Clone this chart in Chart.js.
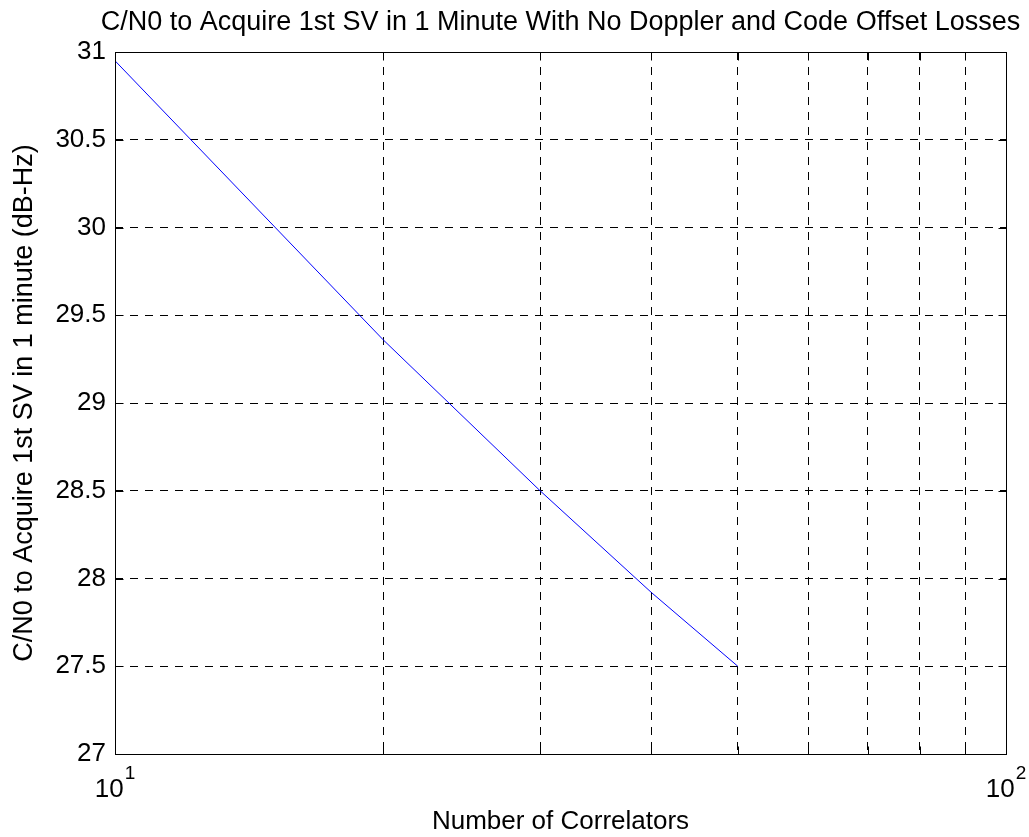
<!DOCTYPE html>
<html>
<head>
<meta charset="utf-8">
<title>C/N0 vs Number of Correlators</title>
<script src="https://cdn.jsdelivr.net/npm/chart.js@4"></script>
<style>
  html, body { margin: 0; padding: 0; background: #fff; }
  #wrap { width: 1029px; height: 837px; }
</style>
</head>
<body>
<div id="wrap"><canvas id="cn0Chart" width="1029" height="837"></canvas></div>
<script>
// number of correlators vs required C/N0 (dB-Hz)
const correlators = [10, 20, 30, 40, 50];
const cn0Required = [30.95, 29.36, 28.5, 27.92, 27.5];

// log axis grid positions and the decades that get a 10^n label
const xGridTicks = [10, 20, 30, 40, 50, 60, 70, 80, 90, 100];
const xDecades = [10, 100];
const yMin = 27;
const yMax = 31;
const yStep = 0.5;

const titleText = "C/N0 to Acquire 1st SV in 1 Minute With No Doppler and Code Offset Losses";

const FONT = "'Liberation Sans', Arial, sans-serif";
const DASH = [8, 7];

// MATLAB style box with inward ticks, title over the axes, 10^n labels
const boxAndTicks = {
  id: "boxAndTicks",
  afterDatasetsDraw(chart) {
    const { ctx, chartArea: a, scales } = chart;
    ctx.save();
    ctx.strokeStyle = "#000";
    ctx.lineWidth = 1;
    const L = Math.round(a.left) + 0.5, R = Math.round(a.right) + 0.5;
    const T = Math.round(a.top) + 0.5, B = Math.round(a.bottom) + 0.5;
    ctx.strokeRect(L, T, R - L, B - T);

    ctx.beginPath();
    scales.x.ticks.forEach(t => {
      const px = Math.round(scales.x.getPixelForValue(t.value)) + 0.5;
      ctx.moveTo(px, B); ctx.lineTo(px, B - 8);
      ctx.moveTo(px, T); ctx.lineTo(px, T + 8);
    });
    scales.y.ticks.forEach(t => {
      const py = Math.round(scales.y.getPixelForValue(t.value)) + 0.5;
      ctx.moveTo(L, py); ctx.lineTo(L + 8, py);
      ctx.moveTo(R, py); ctx.lineTo(R - 8, py);
    });
    ctx.stroke();
    ctx.restore();
  },
  afterDraw(chart) {
    const { ctx, chartArea: a, scales } = chart;
    ctx.save();
    ctx.fillStyle = "#000";
    ctx.textBaseline = "alphabetic";

    ctx.font = "27px " + FONT;
    ctx.textAlign = "center";
    ctx.fillText(titleText, (a.left + a.right) / 2, 30);

    ctx.textAlign = "left";
    xDecades.forEach(v => {
      const exp = String(Math.round(Math.log10(v)));
      ctx.font = "26px " + FONT;
      const wBase = ctx.measureText("10").width;
      ctx.font = "19px " + FONT;
      const wExp = ctx.measureText(exp).width;
      const cx = scales.x.getPixelForValue(v);
      const x0 = cx - (wBase + wExp + 1) / 2;
      ctx.font = "26px " + FONT;
      ctx.fillText("10", x0, 797);
      ctx.font = "19px " + FONT;
      ctx.fillText(exp, x0 + wBase + 1, 779);
    });
    ctx.restore();
  }
};

new Chart(document.getElementById("cn0Chart"), {
  type: "line",
  data: {
    datasets: [
      {
        data: correlators.map((n, i) => ({ x: n, y: cn0Required[i] })),
        borderColor: "#0000ff",
        borderWidth: 1,
        pointRadius: 0,
        tension: 0,
        fill: false,
      },
    ],
  },
  options: {
    responsive: false,
    animation: false,
    layout: { padding: { top: 52, left: 0, right: 23, bottom: 0 } },
    plugins: {
      legend: { display: false },
      tooltip: { enabled: false },
      title: { display: false },
    },
    scales: {
      x: {
        type: "logarithmic",
        min: 10,
        max: 100,
        afterBuildTicks(scale) {
          scale.ticks = xGridTicks.map(v => ({ value: v }));
        },
        afterFit(scale) { scale.height = 83; },
        grid: { color: "#000", lineWidth: 1, drawTicks: false },
        border: { display: false, dash: DASH },
        ticks: { callback: () => "", font: { family: FONT, size: 26 } },
        title: {
          display: true,
          text: "Number of Correlators",
          color: "#000",
          font: { family: FONT, size: 26, weight: "normal" },
          padding: { top: 0, bottom: 0 },
        },
      },
      y: {
        min: yMin,
        max: yMax,
        afterFit(scale) { scale.width = 115; },
        grid: { color: "#000", lineWidth: 1, drawTicks: false },
        border: { display: false, dash: DASH },
        ticks: {
          stepSize: yStep,
          padding: 9,
          color: "#000",
          font: { family: FONT, size: 26 },
          callback: v => String(v),
        },
        title: {
          display: true,
          text: "C/N0 to Acquire 1st SV in 1 minute (dB-Hz)",
          color: "#000",
          font: { family: FONT, size: 27, weight: "normal" },
          padding: { top: 8, bottom: 0 },
        },
      },
    },
  },
  plugins: [boxAndTicks],
});
</script>
</body>
</html>
